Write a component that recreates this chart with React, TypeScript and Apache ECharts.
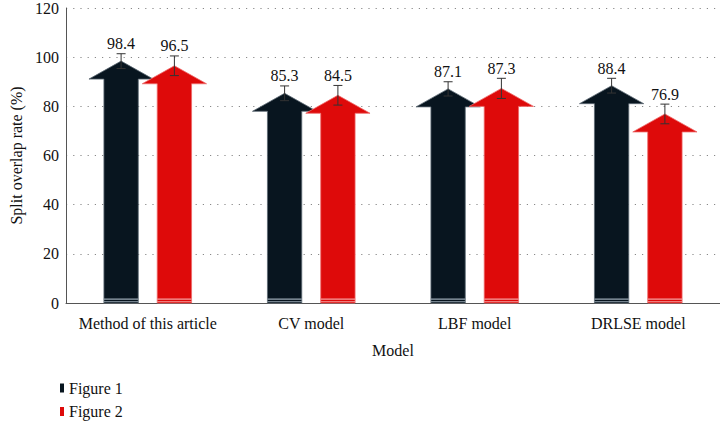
import React, { useEffect, useRef } from "react";
import * as echarts from "echarts";

const categories = ["Method of this article", "CV model", "LBF model", "DRLSE model"];
const seriesNames = ["Figure 1", "Figure 2"];
const figure1Values = [98.4, 85.3, 87.1, 88.4];
const figure2Values = [96.5, 84.5, 87.3, 76.9];
const figure1Errors = [3, 3, 2.9, 3];
const figure2Errors = [4, 4, 4.1, 4];
const yTicks = { min: 0, max: 120, interval: 20 };

const FONT = "'Liberation Serif', 'DejaVu Serif', serif";
const FS = 16;
const DARK = "#08151f";
const RED = "#de0a0a";

function makeRender(offset: number, color: string, edge: string, stripe: string) {
  return (params: any, api: any) => {
    const idx = api.value(0);
    const v = api.value(1);
    const e = api.value(2);
    const top = api.coord([idx, v]);
    const base = api.coord([idx, 0]);
    const band = api.size([1, 0])[0];
    const cx = top[0] + offset * band;
    const headW = band * 0.393;
    const shaftW = band * 0.21;
    const headH = 18;
    const ay = top[1];
    const by = base[1];
    const hb = ay + headH;
    const pts = [
      [cx - shaftW / 2, by],
      [cx - shaftW / 2, hb],
      [cx - headW / 2, hb],
      [cx, ay],
      [cx + headW / 2, hb],
      [cx + shaftW / 2, hb],
      [cx + shaftW / 2, by],
    ];
    const eTop = api.coord([idx, v + e])[1];
    const eBot = api.coord([idx, v - e])[1];
    const capW = 4.5;
    return {
      type: "group",
      children: [
        {
          type: "polygon",
          shape: { points: pts },
          style: { fill: color, stroke: edge, lineWidth: 0.8 },
        },
        {
          type: "rect",
          shape: { x: cx - shaftW / 2, y: by - 4.5, width: shaftW, height: 1.3 },
          style: { fill: stripe },
        },
        {
          type: "rect",
          shape: { x: cx - shaftW / 2, y: by - 2, width: shaftW, height: 0.8 },
          style: { fill: stripe },
        },
        {
          type: "line",
          shape: { x1: cx, y1: eTop, x2: cx, y2: eBot },
          style: { stroke: "#333", lineWidth: 1 },
        },
        {
          type: "line",
          shape: { x1: cx - capW, y1: eTop, x2: cx + capW, y2: eTop },
          style: { stroke: "#333", lineWidth: 1 },
        },
        {
          type: "line",
          shape: { x1: cx - capW, y1: eBot, x2: cx + capW, y2: eBot },
          style: { stroke: "#333", lineWidth: 1 },
        },
        {
          type: "text",
          x: cx,
          y: eTop - 2,
          style: {
            text: String(v),
            fill: "#111",
            font: FS + "px " + FONT,
            align: "center",
            verticalAlign: "bottom",
          },
        },
      ],
    };
  };
}

export default function App() {
  const ref = useRef<HTMLDivElement>(null);
  useEffect(() => {
    const chart = echarts.init(ref.current!, undefined, { renderer: "svg" });
    const d1 = categories.map((_, i) => [i, figure1Values[i], figure1Errors[i]]);
    const d2 = categories.map((_, i) => [i, figure2Values[i], figure2Errors[i]]);
    chart.setOption({
      animation: false,
      backgroundColor: "#ffffff",
      textStyle: { fontFamily: FONT },
      grid: { left: 57, right: 0, top: 6, bottom: 120 },
      legend: {
        data: seriesNames,
        orient: "vertical",
        left: 55,
        top: 375,
        height: 60,
        itemWidth: 4,
        itemHeight: 9,
        itemGap: 7.5,
        icon: "rect",
        textStyle: { fontSize: FS, fontFamily: FONT, color: "#111" },
      },
      xAxis: {
        type: "category",
        data: categories,
        name: "Model",
        nameLocation: "middle",
        nameGap: 39,
        nameTextStyle: { fontSize: FS, fontFamily: FONT, color: "#111" },
        axisLine: { lineStyle: { color: "#555", width: 1 } },
        axisTick: { show: false },
        axisLabel: { fontSize: FS, fontFamily: FONT, color: "#111", margin: 12, interval: 0 },
        splitLine: { show: false },
      },
      yAxis: {
        type: "value",
        min: yTicks.min,
        max: yTicks.max,
        interval: yTicks.interval,
        name: "Split overlap rate (%)",
        nameLocation: "middle",
        nameGap: 42,
        nameTextStyle: { fontSize: FS, fontFamily: FONT, color: "#111" },
        axisLine: { show: true, lineStyle: { color: "#555", width: 1 } },
        axisTick: { show: false },
        axisLabel: { fontSize: FS, fontFamily: FONT, color: "#111", margin: 7 },
        splitLine: { lineStyle: { color: "#888", type: [1.2, 6], width: 1 } },
      },
      series: [
        {
          name: seriesNames[0],
          type: "custom",
          itemStyle: { color: DARK },
          data: d1,
          encode: { x: 0, y: 1 },
          renderItem: makeRender(-0.163, DARK, "#5d6973", "#9aa8b4"),
        },
        {
          name: seriesNames[1],
          type: "custom",
          itemStyle: { color: RED },
          data: d2,
          encode: { x: 0, y: 1 },
          renderItem: makeRender(0.163, RED, "#ee6a6a", "#f4a0a0"),
        },
      ],
    });
    return () => chart.dispose();
  }, []);
  return <div ref={ref} style={{ width: 720, height: 423, position: "absolute", left: 0, top: 0 }} />;
}
